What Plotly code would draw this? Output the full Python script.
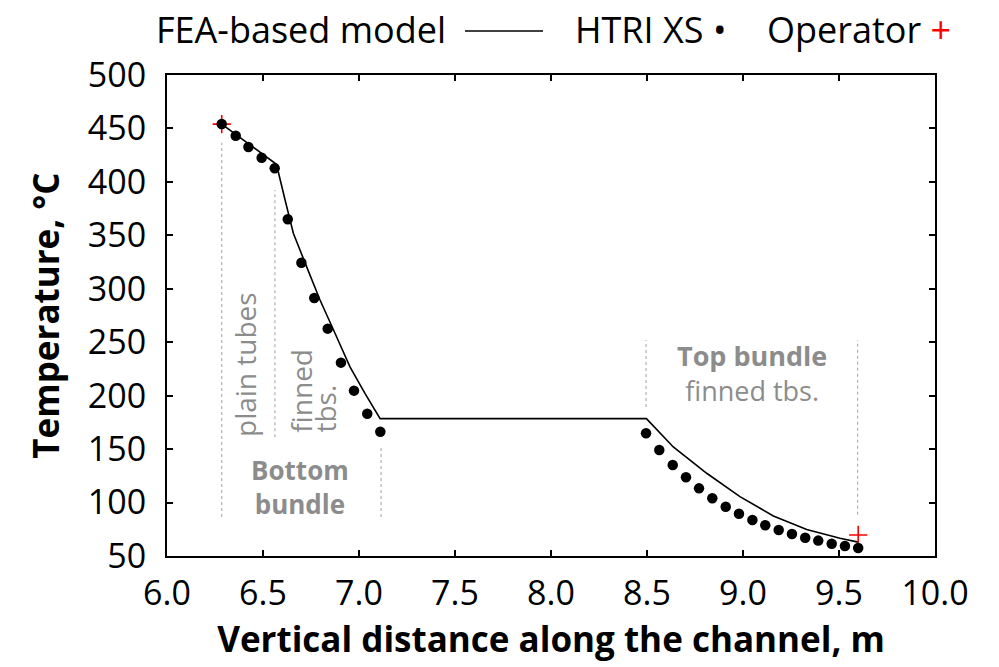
import plotly.graph_objects as go

# ---------------- data ----------------
fea_x = [6.285, 6.570, 6.615, 6.658, 6.727, 6.797, 6.875, 6.953, 7.031, 7.110,
         8.497, 8.564, 8.637, 8.811, 8.984, 9.158, 9.332, 9.505, 9.600]
fea_y = [454.0, 416.5, 383.0, 352.0, 320.7, 289.5, 258.4, 227.0, 202.2, 178.5,
         178.5, 165.5, 152.0, 127.4, 105.5, 87.5, 74.8, 66.6, 63.0]

htri_x = [6.285, 6.358, 6.424, 6.493, 6.561, 6.629, 6.700, 6.767, 6.837, 6.906, 6.974, 7.043, 7.111,
          8.495, 8.564, 8.634, 8.703, 8.771, 8.840, 8.910, 8.979, 9.049, 9.116, 9.186, 9.255, 9.324,
          9.392, 9.462, 9.531, 9.600]
htri_y = [454.2, 443.2, 432.6, 422.6, 412.7, 365.0, 324.4, 291.4, 262.7, 230.9, 204.7, 183.1, 166.3,
          164.8, 149.2, 135.1, 123.6, 113.3, 104.0, 96.1, 89.6, 83.7, 78.7, 74.3, 70.6, 67.1,
          64.4, 61.5, 59.4, 57.5]

oper_x = [6.285, 9.600]
oper_y = [454.0, 69.7]

# vertical dotted separators: x, y_from, y_to
sep_x = [6.285, 6.562, 7.115, 8.495, 9.597]
sep_y0 = [86.5, 161.0, 86.5, 189.5, 88.5]
sep_y1 = [436.5, 392.5, 151.0, 252.0, 252.0]

x_ticks = [6.0, 6.5, 7.0, 7.5, 8.0, 8.5, 9.0, 9.5, 10.0]
x_ticklabels = ["6.0", "6.5", "7.0", "7.5", "8.0", "8.5", "9.0", "9.5", "10.0"]
y_ticks = [50, 100, 150, 200, 250, 300, 350, 400, 450, 500]

FONT = "Open Sans"
GRAY = "#8c8c8c"

fig = go.Figure()
fig.add_trace(go.Scatter(x=fea_x, y=fea_y, mode="lines", line=dict(color="black", width=1.6),
                         name="FEA-based model", showlegend=False))
fig.add_trace(go.Scatter(x=oper_x, y=oper_y, mode="markers",
                         marker=dict(symbol="cross-thin", size=13, line=dict(color="red", width=1.6)),
                         name="Operator", showlegend=False))
fig.add_trace(go.Scatter(x=htri_x, y=htri_y, mode="markers",
                         marker=dict(symbol="circle", size=10.5, color="black"),
                         name="HTRI XS", showlegend=False))

for x, a, b in zip(sep_x, sep_y0, sep_y1):
    fig.add_shape(type="line", x0=x, x1=x, y0=a, y1=b, xref="x", yref="y",
                  line=dict(color="#b0b0b0", width=1.2, dash="dot"), layer="below")

# region labels
fig.add_annotation(x=6.406, y=229.6, text="plain tubes", textangle=-90, showarrow=False,
                   font=dict(family=FONT, size=28, color=GRAY))
fig.add_annotation(x=6.698, y=163.5, text="finned", textangle=-90, showarrow=False,
                   yanchor="bottom", font=dict(family=FONT, size=28, color=GRAY))
fig.add_annotation(x=6.822, y=163.5, text="tbs.", textangle=-90, showarrow=False,
                   yanchor="bottom", font=dict(family=FONT, size=28, color=GRAY))
fig.add_annotation(x=6.693, y=115, text="<b>Bottom</b><br><b>bundle</b>", showarrow=False,
                   font=dict(family=FONT, size=26, color=GRAY), align="center")
fig.add_annotation(x=9.047, y=221, text="<b>Top bundle</b><br>finned tbs.", showarrow=False,
                   font=dict(family=FONT, size=27, color=GRAY), align="center")

# legend (text first, symbol after, as in the original)
LEG = dict(family=FONT, size=36, color="black")
fig.add_annotation(xref="paper", yref="paper", x=0.3659, y=1.0936, xanchor="right", yanchor="middle",
                   text="FEA-based model", showarrow=False, font=LEG)
fig.add_shape(type="line", xref="paper", yref="paper", x0=0.388, x1=0.4896, y0=1.0915, y1=1.0915,
              line=dict(color="black", width=1.3))
fig.add_annotation(xref="paper", yref="paper", x=0.528, y=1.0936, xanchor="left", yanchor="middle",
                   text="HTRI XS\u00a0•", showarrow=False, font=LEG)
fig.add_annotation(xref="paper", yref="paper", x=0.7786, y=1.0936, xanchor="left", yanchor="middle",
                   text="Operator <span style='color:red'>+</span>", showarrow=False, font=LEG)

axis_common = dict(showline=True, linecolor="black", linewidth=2, mirror="ticks",
                   ticks="inside", ticklen=6, tickwidth=2, tickcolor="black",
                   showgrid=False, zeroline=False,
                   tickfont=dict(family=FONT, size=34, color="black"))

fig.update_xaxes(range=[6.0, 10.0], tickvals=x_ticks, ticktext=x_ticklabels, ticklabelstandoff=6,
                 title=dict(text="<b>Vertical distance along the channel, m</b>",
                            font=dict(family=FONT, size=35, color="black"), standoff=14),
                 **axis_common)
fig.update_yaxes(range=[50, 500], tickvals=y_ticks, ticklabelstandoff=12,
                 title=dict(text="<b>Temperature, °C</b>",
                            font=dict(family=FONT, size=35, color="black"), standoff=18),
                 **axis_common)

fig.update_layout(width=999, height=667, margin=dict(l=167, r=64, t=75, b=111),
                  plot_bgcolor="white", paper_bgcolor="white", showlegend=False,
                  font=dict(family=FONT))

fig.write_html("out.html")
